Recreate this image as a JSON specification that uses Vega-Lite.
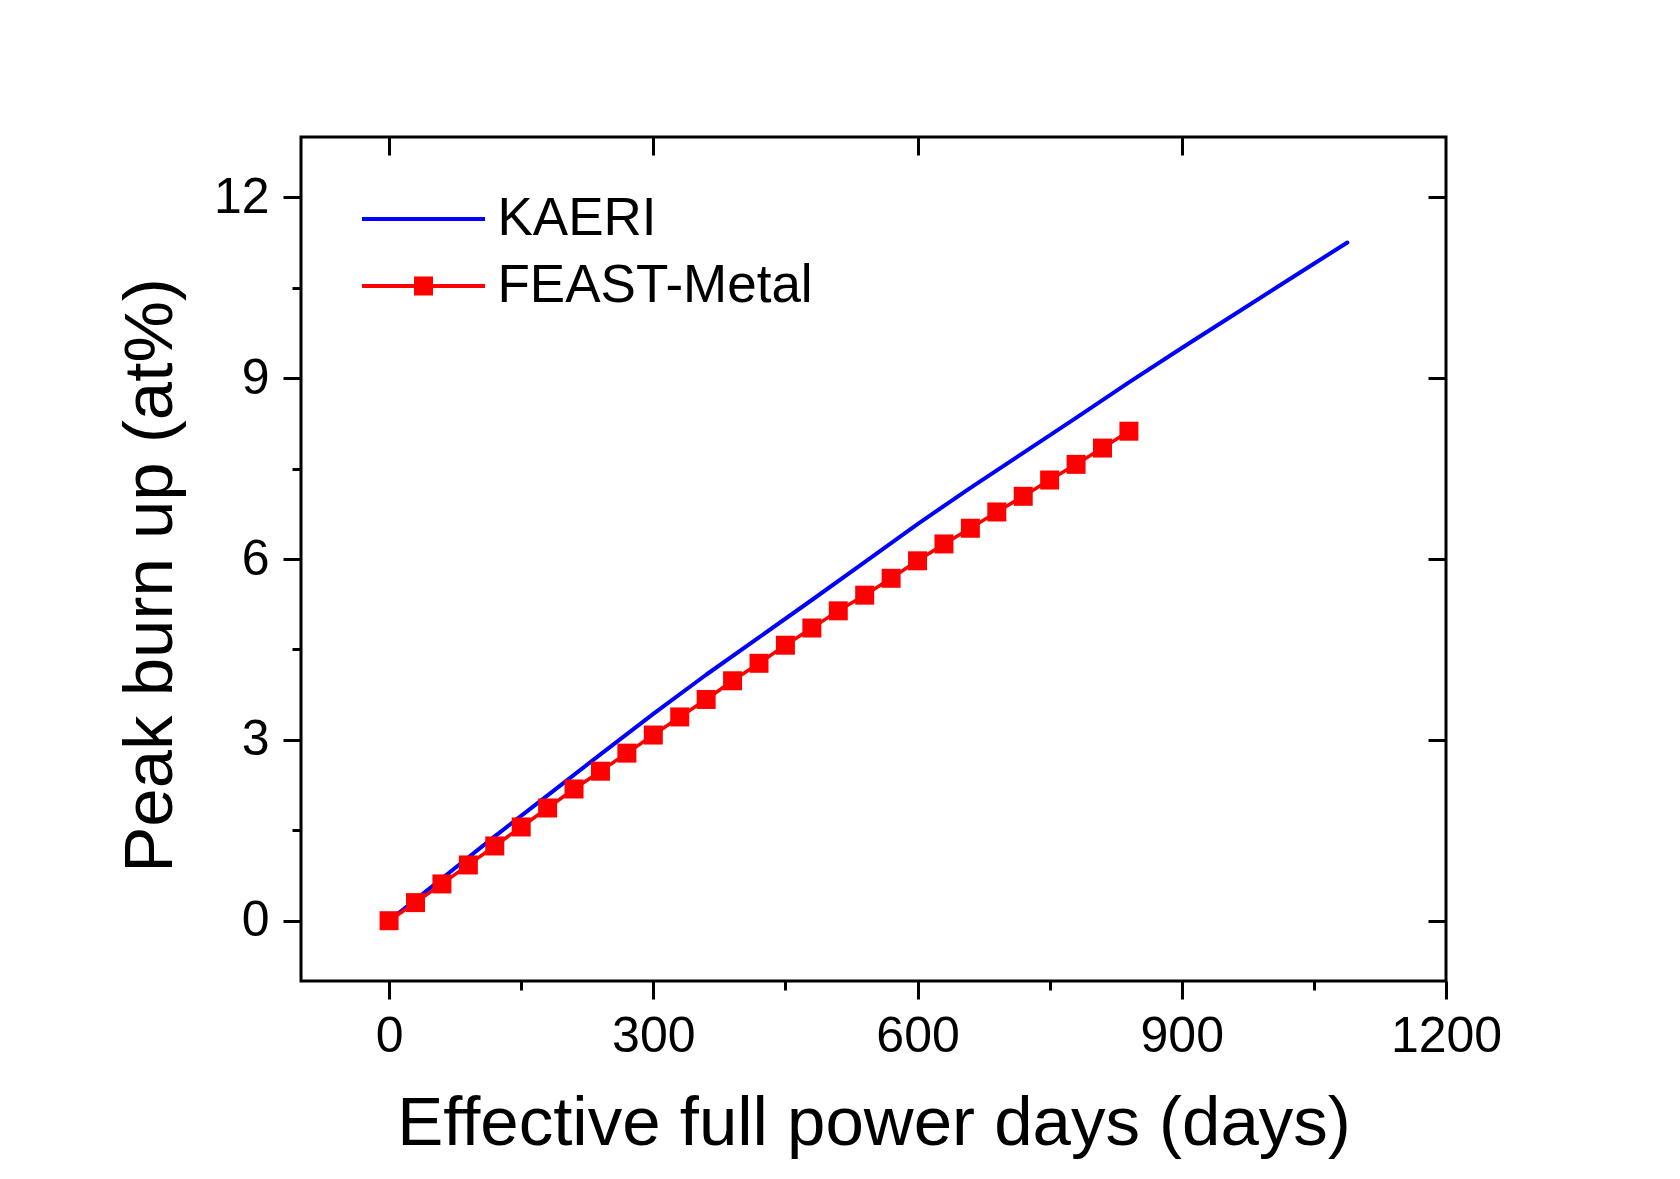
{
  "$schema": "https://vega.github.io/schema/vega-lite/v6.json",
  "width": 1145,
  "height": 844,
  "autosize": "none",
  "padding": {"left": 301, "top": 137, "right": 234, "bottom": 198},
  "background": "white",
  "config": {
    "font": "Liberation Sans",
    "view": {"stroke": "black", "strokeWidth": 3},
    "axis": {"grid": false, "domain": false, "tickColor": "black", "tickWidth": 3, "labelColor": "black", "titleColor": "black", "labelFont": "Liberation Sans", "titleFont": "Liberation Sans", "titleFontWeight": "normal"}
  },
  "data": {
    "values": [
      {"series": "KAERI", "days": 0, "burnup": 0.0},
      {"series": "KAERI", "days": 60, "burnup": 0.70},
      {"series": "KAERI", "days": 120, "burnup": 1.40},
      {"series": "KAERI", "days": 180, "burnup": 2.08},
      {"series": "KAERI", "days": 240, "burnup": 2.76},
      {"series": "KAERI", "days": 300, "burnup": 3.43},
      {"series": "KAERI", "days": 360, "burnup": 4.08},
      {"series": "KAERI", "days": 420, "burnup": 4.70},
      {"series": "KAERI", "days": 480, "burnup": 5.32},
      {"series": "KAERI", "days": 540, "burnup": 5.95},
      {"series": "KAERI", "days": 600, "burnup": 6.58},
      {"series": "KAERI", "days": 660, "burnup": 7.18},
      {"series": "KAERI", "days": 720, "burnup": 7.76},
      {"series": "KAERI", "days": 780, "burnup": 8.34},
      {"series": "KAERI", "days": 840, "burnup": 8.93},
      {"series": "KAERI", "days": 900, "burnup": 9.50},
      {"series": "KAERI", "days": 960, "burnup": 10.06},
      {"series": "KAERI", "days": 1020, "burnup": 10.62},
      {"series": "KAERI", "days": 1088, "burnup": 11.25},
      {"series": "FEAST-Metal", "days": 0, "burnup": 0.0},
      {"series": "FEAST-Metal", "days": 30, "burnup": 0.30},
      {"series": "FEAST-Metal", "days": 60, "burnup": 0.61},
      {"series": "FEAST-Metal", "days": 90, "burnup": 0.925},
      {"series": "FEAST-Metal", "days": 120, "burnup": 1.24},
      {"series": "FEAST-Metal", "days": 150, "burnup": 1.555},
      {"series": "FEAST-Metal", "days": 180, "burnup": 1.87},
      {"series": "FEAST-Metal", "days": 210, "burnup": 2.185},
      {"series": "FEAST-Metal", "days": 240, "burnup": 2.48},
      {"series": "FEAST-Metal", "days": 270, "burnup": 2.78},
      {"series": "FEAST-Metal", "days": 300, "burnup": 3.08},
      {"series": "FEAST-Metal", "days": 330, "burnup": 3.38},
      {"series": "FEAST-Metal", "days": 360, "burnup": 3.67},
      {"series": "FEAST-Metal", "days": 390, "burnup": 3.98},
      {"series": "FEAST-Metal", "days": 420, "burnup": 4.27},
      {"series": "FEAST-Metal", "days": 450, "burnup": 4.57},
      {"series": "FEAST-Metal", "days": 480, "burnup": 4.855},
      {"series": "FEAST-Metal", "days": 510, "burnup": 5.14},
      {"series": "FEAST-Metal", "days": 540, "burnup": 5.40},
      {"series": "FEAST-Metal", "days": 570, "burnup": 5.68},
      {"series": "FEAST-Metal", "days": 600, "burnup": 5.97},
      {"series": "FEAST-Metal", "days": 630, "burnup": 6.25},
      {"series": "FEAST-Metal", "days": 660, "burnup": 6.51},
      {"series": "FEAST-Metal", "days": 690, "burnup": 6.78},
      {"series": "FEAST-Metal", "days": 720, "burnup": 7.04},
      {"series": "FEAST-Metal", "days": 750, "burnup": 7.31},
      {"series": "FEAST-Metal", "days": 780, "burnup": 7.57},
      {"series": "FEAST-Metal", "days": 810, "burnup": 7.84},
      {"series": "FEAST-Metal", "days": 840, "burnup": 8.12}
    ]
  },
  "layer": [
    {
      "transform": [{"filter": "datum.series === 'KAERI'"}],
      "mark": {"type": "line", "strokeWidth": 4, "strokeCap": "round", "strokeJoin": "round"},
      "encoding": {
        "x": {"field": "days", "type": "quantitative", "scale": {"domain": [-100, 1200], "nice": false, "zero": false},
          "axis": {"orient": "bottom", "title": "Effective full power days (days)", "values": [0, 300, 600, 900, 1200], "format": "d", "tickSize": 18, "labelFontSize": 50, "labelPadding": 12, "titleFontSize": 69, "titlePadding": 28, "labelFlush": false, "labelOverlap": false}},
        "y": {"field": "burnup", "type": "quantitative", "scale": {"domain": [-1, 13], "nice": false, "zero": false},
          "axis": {"orient": "left", "title": "Peak burn up (at%)", "values": [0, 3, 6, 9, 12], "tickSize": 18, "labelFontSize": 50, "labelPadding": 14, "titleFontSize": 69, "titlePadding": 28, "titleY": 438, "labelFlush": false, "labelOverlap": false}},
        "color": {"field": "series", "type": "nominal",
          "scale": {"domain": ["KAERI", "FEAST-Metal"], "range": ["#0000ff", "#ff0000"]},
          "legend": {"orient": "none", "legendX": 96, "legendY": 55.5, "title": null, "padding": 0, "symbolSize": 1600, "symbolStrokeWidth": 4, "labelFont": "Liberation Sans", "labelFontSize": 53, "labelColor": "black", "labelOffset": 47.5, "labelLimit": 1000, "rowPadding": 13,
            "encode": {"symbols": {"update": {
              "shape": {"signal": "datum.value === 'KAERI' ? 'M-3.075,0H3.075' : 'M-3.075,0H3.075M-0.375,-0.375H0.375V0.375H-0.375Z'"},
              "fill": {"signal": "datum.value === 'KAERI' ? 'transparent' : '#ff0000'"}
            }}}}}
      }
    },
    {
      "transform": [{"filter": "datum.series === 'FEAST-Metal'"}],
      "mark": {"type": "line", "strokeWidth": 3.5, "strokeJoin": "round"},
      "encoding": {
        "x": {"field": "days", "type": "quantitative", "axis": {"orient": "top", "title": null, "labels": false, "values": [0, 300, 600, 900], "tickSize": -18}},
        "y": {"field": "burnup", "type": "quantitative", "axis": {"orient": "right", "title": null, "labels": false, "values": [0, 3, 6, 9, 12], "tickSize": -18}},
        "color": {"field": "series", "type": "nominal"}
      }
    },
    {
      "transform": [{"filter": "datum.series === 'FEAST-Metal'"}],
      "mark": {"type": "point", "shape": "square", "size": 361, "filled": true, "opacity": 1, "color": "#ff0000"},
      "encoding": {
        "x": {"field": "days", "type": "quantitative", "axis": {"orient": "bottom", "title": null, "labels": false, "values": [150, 450, 750, 1050], "tickSize": 9}},
        "y": {"field": "burnup", "type": "quantitative", "axis": {"orient": "left", "title": null, "labels": false, "values": [1.5, 4.5, 7.5, 10.5], "tickSize": 9}}
      }
    }
  ],
  "resolve": {"axis": {"x": "independent", "y": "independent"}}
}
